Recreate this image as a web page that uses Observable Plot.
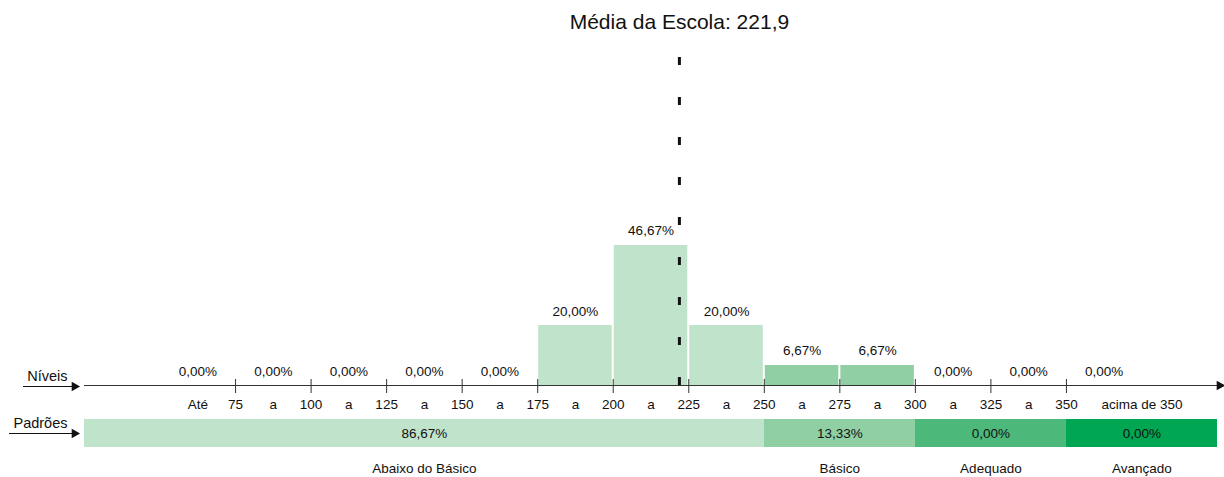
<!DOCTYPE html>
<html>
<head>
<meta charset="utf-8">
<script src="https://cdn.jsdelivr.net/npm/d3@7"></script>
<script src="https://cdn.jsdelivr.net/npm/@observablehq/plot@0.6"></script>
<style>
  body { margin: 0; background: #fff; }
  svg { font-family: "Liberation Sans", Arial, sans-serif; }
</style>
</head>
<body>
<div id="chart"></div>
<script>
// ---- data ----
const binLow  = [50, 75, 100, 125, 150, 175, 200, 225, 250, 275, 300, 325, 350];
const binHigh = [75, 100, 125, 150, 175, 200, 225, 250, 275, 300, 325, 350, 375];
const binPct  = [0, 0, 0, 0, 0, 20.00, 46.67, 20.00, 6.67, 6.67, 0, 0, 0];

const tickValues = [75, 100, 125, 150, 175, 200, 225, 250, 275, 300, 325, 350];
const tickLabelPos  = [62.5, 75, 87.5, 100, 112.5, 125, 137.5, 150, 162.5, 175, 187.5, 200, 212.5, 225, 237.5, 250, 262.5, 275, 287.5, 300, 312.5, 325, 337.5, 350, 375];
const tickLabelText = ["Até", "75", "a", "100", "a", "125", "a", "150", "a", "175", "a", "200", "a", "225", "a", "250", "a", "275", "a", "300", "a", "325", "a", "350", "acima de 350"];

const levelNames = ["Abaixo do Básico", "Básico", "Adequado", "Avançado"];
const levelLow   = [25, 250, 300, 350];
const levelHigh  = [250, 300, 350, 400];
const levelPct   = [86.67, 13.33, 0, 0];
const levelColors = ["#c0e3cb", "#8fcfa3", "#4cb87a", "#00a651"];

const schoolMean = 221.9;
const meanLabel = "Média da Escola: 221,9";

// ---- derived tables ----
const fmt = v => v.toFixed(2).replace(".", ",") + "%";
const levelIndex = lo => lo < 250 ? 0 : lo < 300 ? 1 : lo < 350 ? 2 : 3;
const bins = binLow.map((lo, i) => ({lo, hi: binHigh[i], pct: binPct[i], mid: (lo + binHigh[i]) / 2, color: levelColors[levelIndex(lo)]}));
const tickLabels = tickLabelPos.map((x, i) => ({x, text: tickLabelText[i]}));
const levels = levelNames.map((name, i) => ({name, lo: levelLow[i], hi: levelHigh[i], pct: levelPct[i], mid: (levelLow[i] + levelHigh[i]) / 2, color: levelColors[i]}));

// ---- layout helpers (pixel rows -> scale values) ----
const BASE = 385, PXPER = 3;
const py = px => (BASE - px) / PXPER;
const xv = px => 25 + (px - 84) * 375 / 1133;

const fs = 13.5;

const chart = Plot.plot({
  width: 1224,
  height: 477,
  marginLeft: 84,
  marginRight: 7,
  marginTop: 0,
  marginBottom: 0,
  x: {domain: [25, 400], axis: null},
  y: {domain: [0, 100], range: [BASE, BASE - 100 * PXPER], axis: null},
  marks: [
    // histogram bars
    Plot.rectY(bins, {x1: "lo", x2: "hi", y: "pct", fill: "color", insetLeft: 1, insetRight: 1}),
    // percentage labels
    Plot.text(bins, {x: "mid", y: "pct", text: d => fmt(d.pct), lineAnchor: "bottom", dy: -10, fontSize: fs, fill: "#111"}),
    // axis line + arrow
    Plot.ruleY([0], {x1: 25, x2: xv(1219), stroke: "#333", strokeWidth: 1}),
    Plot.dot([0], {x: xv(1219), y: 0, symbol: "triangle", rotate: 90, r: 3.6, fill: "#111", stroke: null}),
    // ticks
    Plot.ruleX(tickValues, {y1: py(379), y2: py(393), stroke: "#333", strokeWidth: 1}),
    Plot.text(tickLabels, {x: "x", y: py(404), text: "text", fontSize: fs, fill: "#111"}),
    // mean dashed line
    Plot.ruleX([schoolMean], {y1: py(57), y2: py(392), stroke: "#111", strokeWidth: 3, strokeDasharray: "8,32"}),
    Plot.text([schoolMean], {x: d => d, y: py(22), text: () => meanLabel, fontSize: 21, fill: "#111"}),
    // standards bar
    Plot.rect(levels, {x1: "lo", x2: "hi", y1: py(419), y2: py(447), fill: "color"}),
    Plot.text(levels, {x: "mid", y: py(433), text: d => fmt(d.pct), fontSize: fs, fill: "#111"}),
    Plot.text(levels, {x: "mid", y: py(468), text: "name", fontSize: fs, fill: "#111"}),
    // left row labels with arrows
    Plot.text(["Níveis"], {x: xv(67), y: py(376), text: d => d, textAnchor: "end", fontSize: 14.5, fill: "#111"}),
    Plot.ruleY([py(386)], {x1: xv(23), x2: xv(73), stroke: "#111", strokeWidth: 1}),
    Plot.dot([0], {x: xv(74), y: py(386), symbol: "triangle", rotate: 90, r: 3.6, fill: "#111", stroke: null}),
    Plot.text(["Padrões"], {x: xv(67), y: py(423), text: d => d, textAnchor: "end", fontSize: 14.5, fill: "#111"}),
    Plot.ruleY([py(433)], {x1: xv(9), x2: xv(73), stroke: "#111", strokeWidth: 1}),
    Plot.dot([0], {x: xv(74), y: py(433), symbol: "triangle", rotate: 90, r: 3.6, fill: "#111", stroke: null})
  ]
});
document.getElementById("chart").appendChild(chart);
</script>
</body>
</html>
